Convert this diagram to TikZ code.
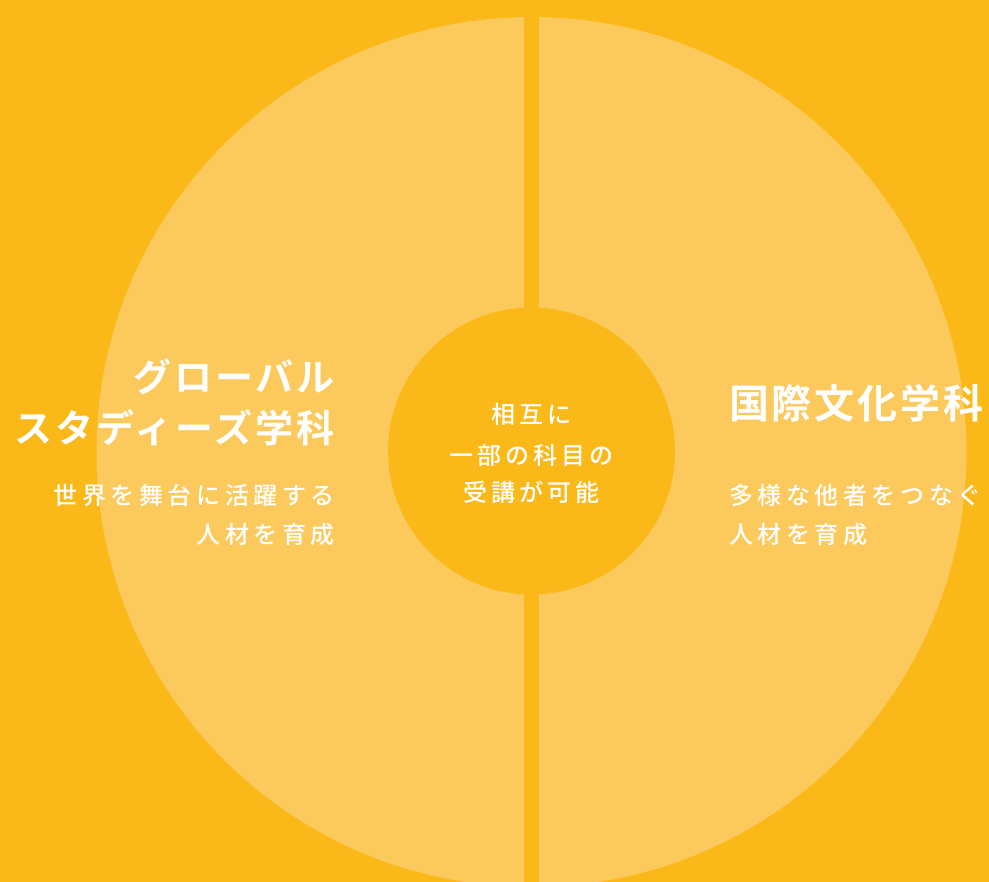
\documentclass[tikz,border=0pt]{standalone}
\usepackage{fontspec}
\newfontfamily\jpbold[LetterSpace=8]{Noto Sans CJK JP Bold}
\newfontfamily\jprbold[LetterSpace=7]{Noto Sans CJK JP Bold}
\newfontfamily\jpsub[LetterSpace=19]{Noto Sans CJK JP Medium}
\newfontfamily\jpcen[LetterSpace=17]{Noto Sans CJK JP Medium}
\definecolor{bgorange}{HTML}{FBB919}
\definecolor{lightorange}{HTML}{FCC95C}
\tikzset{
  title/.style={text=white, inner sep=0pt, font=\jpbold\fontsize{38pt}{38pt}\selectfont},
  rtitle/.style={text=white, inner sep=0pt, font=\jprbold\fontsize{40pt}{40pt}\selectfont},
  sub/.style={text=white, inner sep=0pt, font=\jpsub\fontsize{24pt}{24pt}\selectfont},
  cen/.style={text=white, inner sep=0pt, font=\jpcen\fontsize{24pt}{24pt}\selectfont},
}
\begin{document}
\begin{tikzpicture}[x=1pt,y=-1pt]
\useasboundingbox (0,0) rectangle (989,882);
\fill[bgorange] (0,0) rectangle (989,882);
\fill[lightorange] (531.5,452) circle (435);
\fill[bgorange] (524,0) rectangle (539,882);
\fill[bgorange] (531.5,451) circle (143.5);
% left
\node[title, anchor=east] (l1) at (335,377) {グローバル};
\node[title, anchor=east] (l2) at (335,428) {スタディーズ学科};
\node[sub, anchor=east] (l3) at (335,495) {世界を舞台に活躍する};
\node[sub, anchor=east] (l4) at (335,534) {人材を育成};
% center
\node[cen] (c1) at (531.5,414) {相互に};
\node[cen] (c2) at (531.5,455) {一部の科目の};
\node[cen] (c3) at (531.5,492) {受講が可能};
% right
\node[rtitle, anchor=west] (r1) at (729,403) {国際文化学科};
\node[sub, anchor=west] (r2) at (729,495) {多様な他者をつなぐ};
\node[sub, anchor=west] (r3) at (729,534) {人材を育成};
\end{tikzpicture}
\end{document}
